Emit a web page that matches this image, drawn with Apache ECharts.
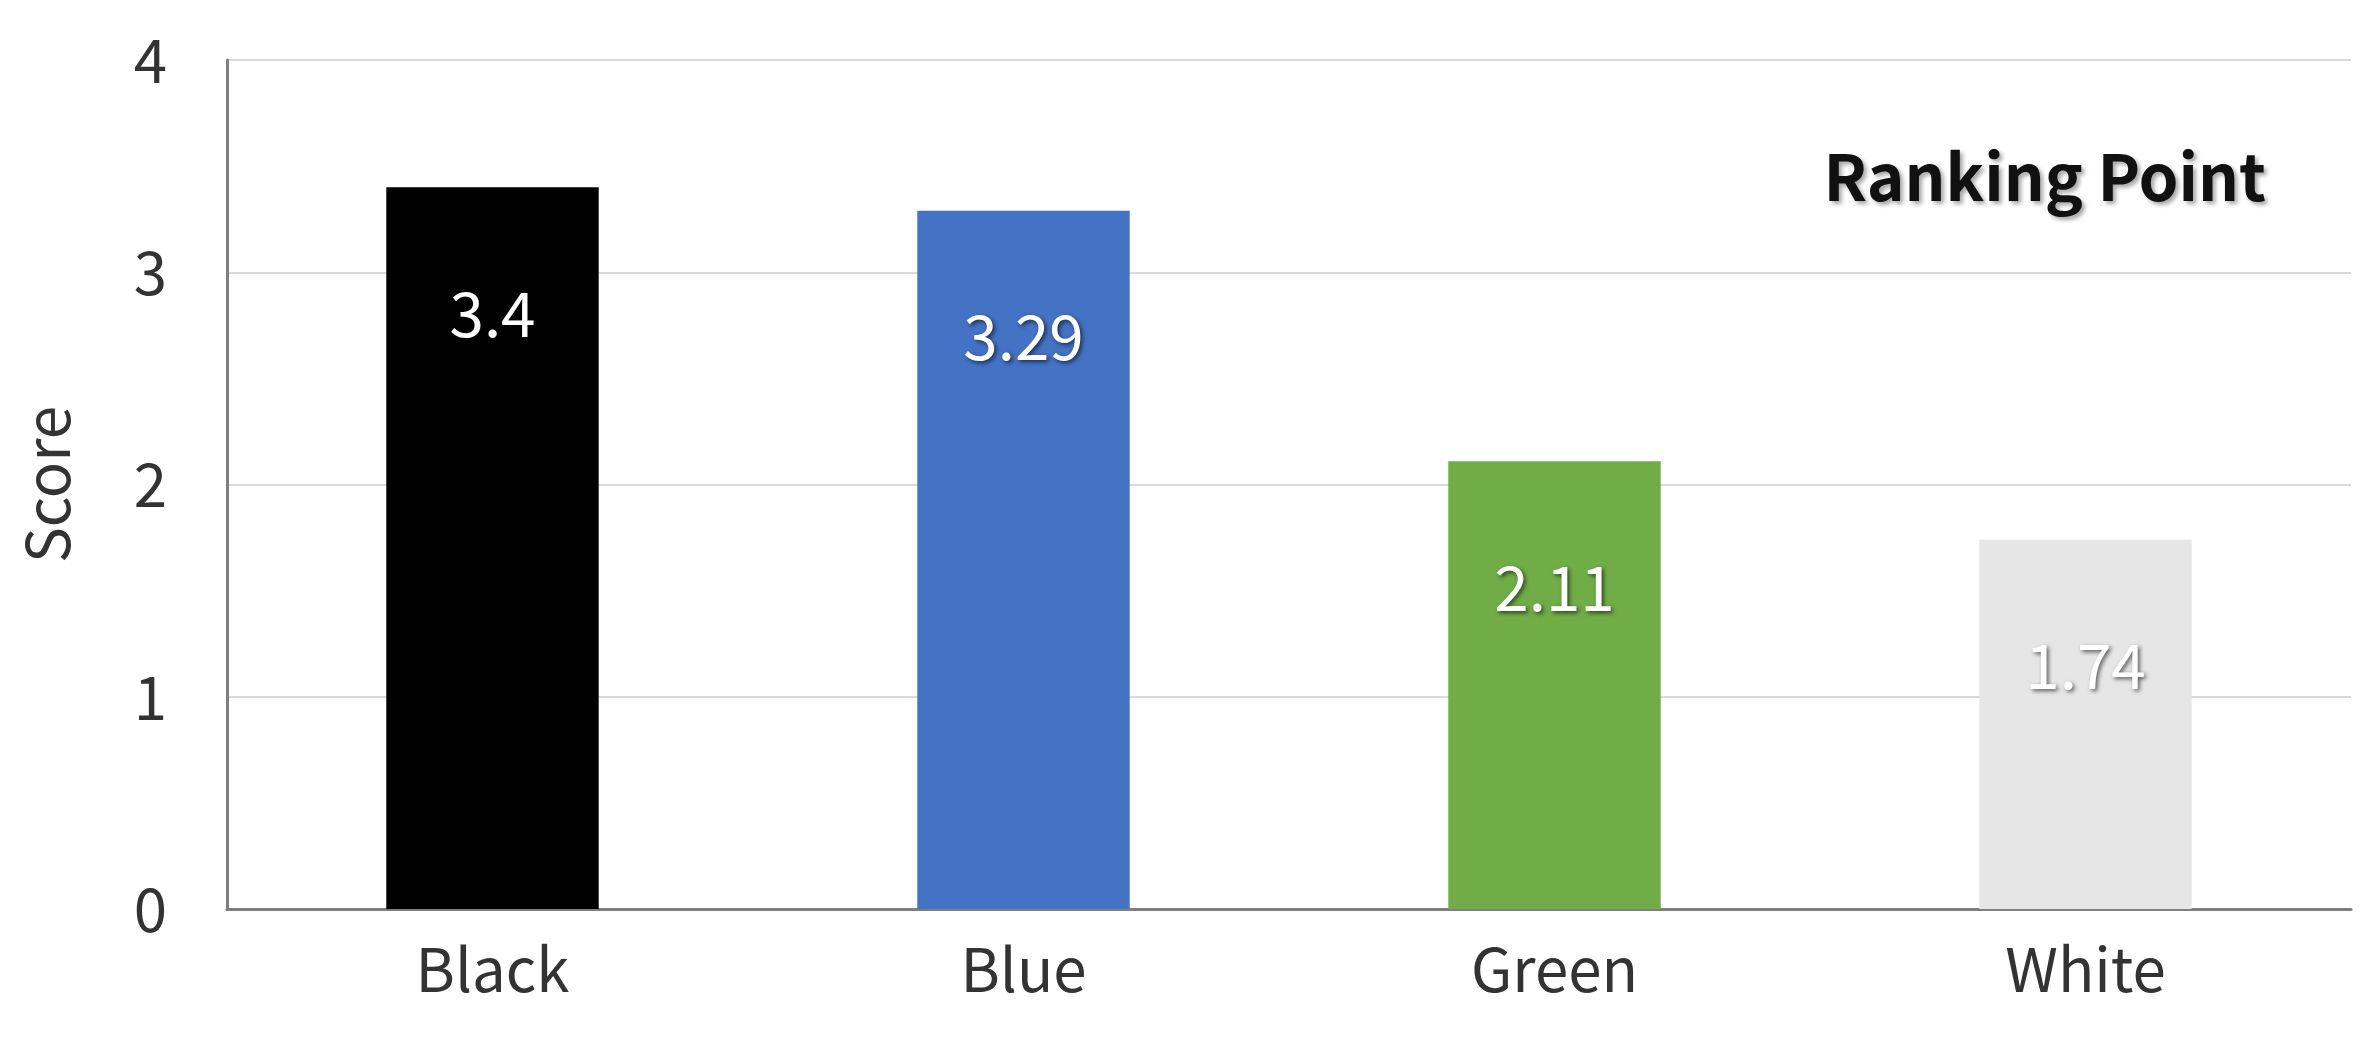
<!DOCTYPE html>
<html>
<head>
<meta charset="utf-8">
<script src="https://cdn.jsdelivr.net/npm/echarts@6/dist/echarts.min.js"></script>
<style>
  html, body { margin: 0; padding: 0; background: #fff; }
  #chart { width: 2371px; height: 1044px; }
</style>
</head>
<body>
<div id="chart"></div>
<script>
var categories = ['Black', 'Blue', 'Green', 'White'];
var scores = [3.4, 3.29, 2.11, 1.74];
var barColors = ['#000000', '#4472c4', '#70ad47', '#e7e6e6'];

var font = '"Noto Sans CJK KR", "Noto Sans", sans-serif';
var myChart = echarts.init(document.getElementById('chart'));

var option = {
    textStyle: { fontFamily: font },
    title: {
        text: 'Ranking Point',
        right: 100,
        top: 140,
        textStyle: {
            fontFamily: font,
            fontSize: 64,
            fontWeight: 'bold',
            color: '#111',
            textShadowColor: 'rgba(0,0,0,0.35)',
            textShadowBlur: 4,
            textShadowOffsetX: 3,
            textShadowOffsetY: 3
        }
    },
    grid: { left: 227, right: 20, top: 60, bottom: 135 },
    xAxis: {
        type: 'category',
        data: categories,
        axisLine: { lineStyle: { color: '#7f7f7f', width: 3 } },
        axisTick: { show: false },
        axisLabel: { fontSize: 60, color: '#333', margin: 30, fontFamily: font }
    },
    yAxis: {
        type: 'value',
        min: 0,
        max: 4,
        interval: 1,
        name: 'Score',
        nameLocation: 'middle',
        nameGap: 150,
        nameTextStyle: { fontSize: 60, color: '#333', fontFamily: font },
        axisLine: { show: true, lineStyle: { color: '#7f7f7f', width: 3 } },
        axisTick: { show: false },
        axisLabel: { fontSize: 60, color: '#333', margin: 60, fontFamily: font },
        splitLine: { lineStyle: { color: '#d9d9d9', width: 2 } }
    },
    series: [{
        type: 'bar',
        barWidth: '40%',
        data: scores.map(function (v, i) {
            return { value: v, itemStyle: { color: barColors[i] } };
        }),
        label: {
            show: true,
            position: 'insideTop',
            distance: 95,
            fontSize: 62,
            fontFamily: font,
            color: '#fff',
            textShadowColor: 'rgba(0,0,0,0.6)',
            textShadowBlur: 4,
            textShadowOffsetX: 2,
            textShadowOffsetY: 2
        }
    }]
};

myChart.setOption(option);
</script>
</body>
</html>
